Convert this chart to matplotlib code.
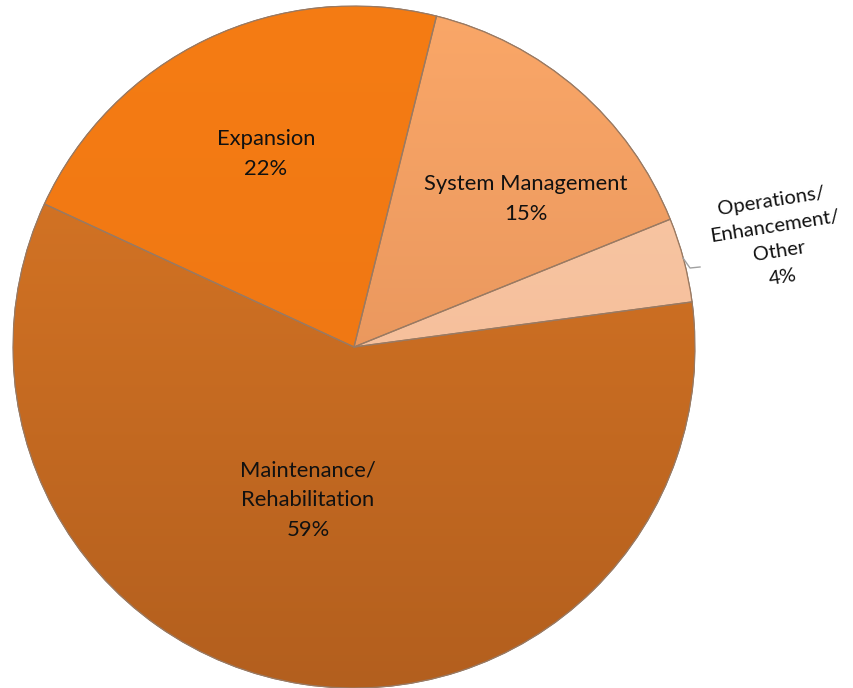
import matplotlib
matplotlib.use("Agg")
import matplotlib.pyplot as plt
import numpy as np
from matplotlib.colors import LinearSegmentedColormap
from matplotlib.patches import Wedge

categories = ["System Management", "Operations/\nEnhancement/\nOther", "Maintenance/\nRehabilitation", "Expansion"]
values = [15, 4, 59, 22]
pct_labels = ["15%", "4%", "59%", "22%"]
# top / bottom colours for a gentle vertical gradient per slice
top_colors = ["#FAA768", "#F9CBAA", "#DE7A26", "#F57C14"]
bot_colors = ["#DC8A55", "#F3B58E", "#B35F1E", "#EC7412"]

W, H = 854, 688
fig = plt.figure(figsize=(W / 100, H / 100), dpi=100)
fig.patch.set_facecolor("white")

cx, cy, r = 354, 347, 341
ax = fig.add_axes([(cx - r) / W, (H - cy - r) / H, 2 * r / W, 2 * r / H])
ax.set_xlim(-1, 1)
ax.set_ylim(-1, 1)
ax.axis("off")

wedges, _ = ax.pie(values, startangle=76, counterclock=False, radius=1.0,
                   colors=top_colors,
                   wedgeprops=dict(edgecolor="#8a6a55", linewidth=0.8))

# gradient fill clipped to each wedge
for w, tc, bc in zip(wedges, top_colors, bot_colors):
    cmap = LinearSegmentedColormap.from_list("g", [bc, tc])
    grad = np.linspace(0, 1, 256).reshape(-1, 1)
    im = ax.imshow(grad, extent=[-1, 1, -1, 1], origin="lower", cmap=cmap,
                   aspect="auto", zorder=w.get_zorder() + 0.1)
    im.set_clip_path(w)
    edge = Wedge(w.center, w.r, w.theta1, w.theta2,
                 facecolor="none", edgecolor="#9a7a62",
                 linewidth=0.9, zorder=w.get_zorder() + 0.2)
    ax.add_patch(edge)

ax.set_xlim(-1, 1)
ax.set_ylim(-1, 1)

font = ["Lato", "DejaVu Sans"]
fs = 15.8

def ptext(x, y, s, size=fs, **kw):
    fig.text(x / W, 1 - y / H, s, ha="center", va="center",
             fontsize=size, family=font, color="#111111", linespacing=1.62, **kw)

ptext(266, 154, categories[3] + "\n" + pct_labels[3])
ptext(526, 199, categories[0] + "\n" + pct_labels[0])
ptext(308, 500, categories[2] + "\n" + pct_labels[2])
ptext(777, 239, categories[1] + "\n" + pct_labels[1], size=14.6, rotation=9,
      rotation_mode="anchor")

# leader line for the small slice
fig.add_artist(plt.Line2D([683 / W, 690 / W, 700 / W],
                          [1 - 258 / H, 1 - 268 / H, 1 - 267 / H],
                          color="#a0a0a0", linewidth=1.0))

fig.savefig("out.png", dpi=100, facecolor="white")
